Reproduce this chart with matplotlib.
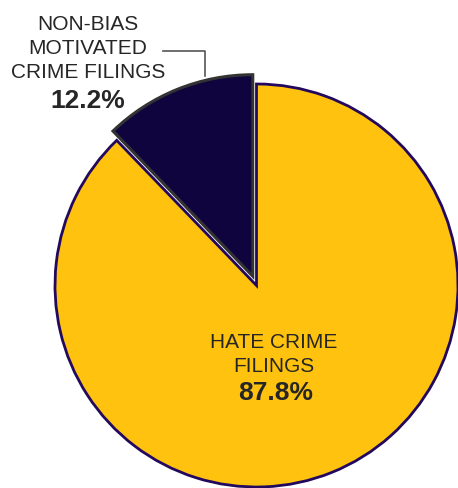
import matplotlib.pyplot as plt

# Anteile der Einreichungen
labels = ['NON-BIAS\nMOTIVATED\nCRIME FILINGS', 'HATE CRIME\nFILINGS']
shares = [12.2, 87.8]
colors = ['#10043f', '#ffc20e']

W, H = 458, 489
fig = plt.figure(figsize=(W / 100, H / 100), dpi=100)
ax = fig.add_axes([0, 0, 1, 1])

# Pixel-Koordinaten (y nach oben)
cx, cy, r = 256.5, H - 286.5, 201.5
wedges, _ = ax.pie(shares, colors=colors, startangle=90, counterclock=True,
                   center=(cx, cy), radius=r, explode=[10, 0], frame=True)
ax.set_xlim(0, W)
ax.set_ylim(0, H)
ax.axis('off')
wedges[0].set_edgecolor('#333333')
wedges[0].set_linewidth(2.2)
wedges[1].set_edgecolor('#22095e')
wedges[1].set_linewidth(2)

txt = '#262626'
ax.text(88, H - 48.5, labels[0], ha='center', va='center', fontsize=15,
        family='Liberation Sans', color=txt, linespacing=1.32)
ax.text(88, H - 101, f'{shares[0]}%', ha='center', va='center', fontsize=19,
        family='Liberation Sans', fontweight='bold', color=txt)
ax.text(274, H - 354.5, labels[1], ha='center', va='center', fontsize=15,
        family='Liberation Sans', color=txt, linespacing=1.32)
ax.text(276, H - 393, f'{shares[1]}%', ha='center', va='center', fontsize=19,
        family='Liberation Sans', fontweight='bold', color=txt)

# Hinweislinie
ax.plot([163, 205, 205], [H - 52, H - 52, H - 77], color='#555555', lw=1.2)

fig.savefig('out.png', dpi=100)
